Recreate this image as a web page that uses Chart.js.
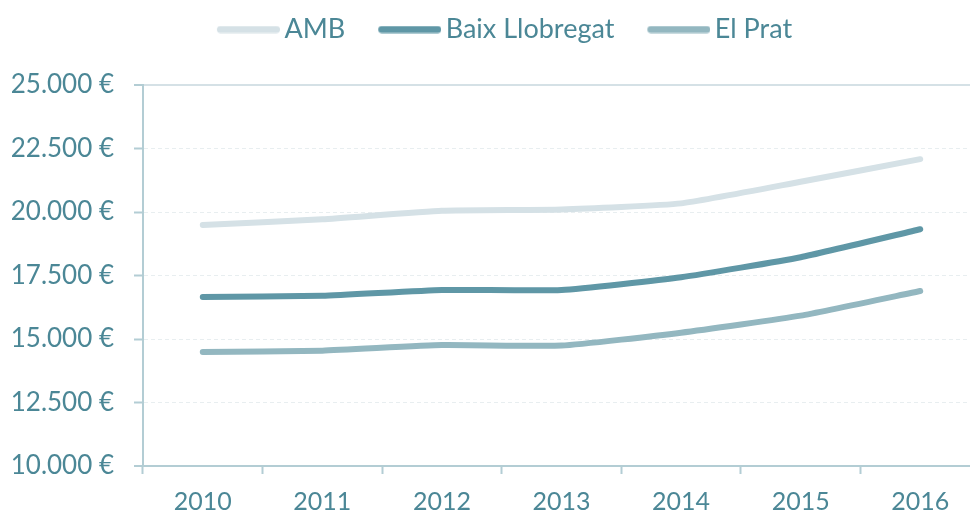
<!DOCTYPE html>
<html>
<head>
<meta charset="utf-8">
<script src="https://cdn.jsdelivr.net/npm/chart.js@4/dist/chart.umd.min.js"></script>
<style>
html,body{margin:0;padding:0;background:#ffffff;overflow:hidden;}
#wrap{width:980px;height:516px;}
</style>
</head>
<body>
<div id="wrap"><canvas id="c" width="980" height="516"></canvas></div>
<script>
const years = ['2010','2011','2012','2013','2014','2015','2016'];
const amb = [19490, 19710, 20050, 20100, 20340, 21190, 22080];
const baixLlobregat = [16650, 16700, 16930, 16930, 17430, 18220, 19320];
const elPrat = [14490, 14540, 14760, 14740, 15250, 15920, 16890];
const yTicks = [10000, 12500, 15000, 17500, 20000, 22500, 25000];

const TEXT = '#4b8796';
const AXIS = '#b3cdd4';
const FONT = 'Lato';

// legend symbol: long rounded line, drawn in the right part of the reserved box
function legendLine(color){
  const c = document.createElement('canvas');
  c.width = 89; c.height = 8;
  const g = c.getContext('2d');
  g.strokeStyle = color; g.lineWidth = 7; g.lineCap = 'round';
  g.beginPath(); g.moveTo(29.5, 4); g.lineTo(85.5, 4); g.stroke();
  return c;
}

const colors = ['#d5e1e6', '#5f97a6', '#93b7c0'];
const names = ['AMB', 'Baix Llobregat', 'El Prat'];
const series = [amb, baixLlobregat, elPrat];

const legendHeightPlugin = {
  id: 'legendHeight',
  beforeLayout(chart) {
    const lg = chart.legend;
    if (lg && !lg._patched) {
      const orig = lg.fit;
      lg.fit = function() { orig.call(this); this.height = 85; };
      lg._patched = true;
    }
  }
};

new Chart(document.getElementById('c'), {
  type: 'line',
  data: {
    labels: years,
    datasets: series.map((d, i) => ({
      label: names[i],
      data: d,
      borderColor: colors[i],
      backgroundColor: colors[i],
      borderWidth: 6,
      borderCapStyle: 'round',
      borderJoinStyle: 'round',
      pointRadius: 0,
      pointHoverRadius: 0,
      tension: 0.15,
      fill: false
    }))
  },
  plugins: [legendHeightPlugin],
  options: {
    responsive: false,
    animation: false,
    events: [],
    layout: { padding: { left: 12, right: 0, top: 0, bottom: 0 } },
    plugins: {
      tooltip: { enabled: false },
      legend: {
        position: 'top',
        labels: {
          usePointStyle: true,
          pointStyleWidth: 71,
          boxHeight: 7,
          padding: 16,
          color: TEXT,
          font: { family: FONT, size: 27 },
          generateLabels(chart) {
            return chart.data.datasets.map((ds, i) => ({
              text: ds.label,
              fillStyle: ds.borderColor,
              strokeStyle: ds.borderColor,
              lineWidth: 0,
              pointStyle: legendLine(ds.borderColor),
              fontColor: TEXT,
              hidden: false,
              datasetIndex: i
            }));
          }
        }
      }
    },
    scales: {
      x: {
        offset: true,
        afterFit(scale) { scale.height = 50; },
        grid: {
          offset: true,
          drawOnChartArea: false,
          drawTicks: true,
          tickLength: 8,
          tickWidth: 2,
          tickColor: AXIS,
          color: AXIS
        },
        border: { display: true, color: AXIS, width: 2 },
        ticks: {
          color: TEXT,
          padding: 13,
          font: { family: FONT, size: 25 },
          maxRotation: 0
        }
      },
      y: {
        min: 10000,
        max: 25000,
        afterBuildTicks(scale) { scale.ticks = yTicks.map(v => ({ value: v })); },
        afterFit(scale) { scale.width = 131; },
        grid: {
          drawTicks: true,
          tickLength: 9,
          tickWidth: 2,
          tickColor: AXIS,
          lineWidth: ctx => (ctx.tick && ctx.tick.value === 25000) ? 2 : (ctx.tick && ctx.tick.value === 10000 ? 0 : 1),
          color: ctx => (ctx.tick && ctx.tick.value === 25000) ? '#d5e1e6' : '#e8eef0'
        },
        border: {
          display: true, color: AXIS, width: 2,
          dash: ctx => (ctx.tick && ctx.tick.value === 25000) ? [] : [4, 3]
        },
        ticks: {
          color: TEXT,
          padding: 20,
          font: { family: FONT, size: 26 },
          callback: v => v.toLocaleString('de-DE') + ' €'
        }
      }
    }
  }
});
</script>
</body>
</html>
